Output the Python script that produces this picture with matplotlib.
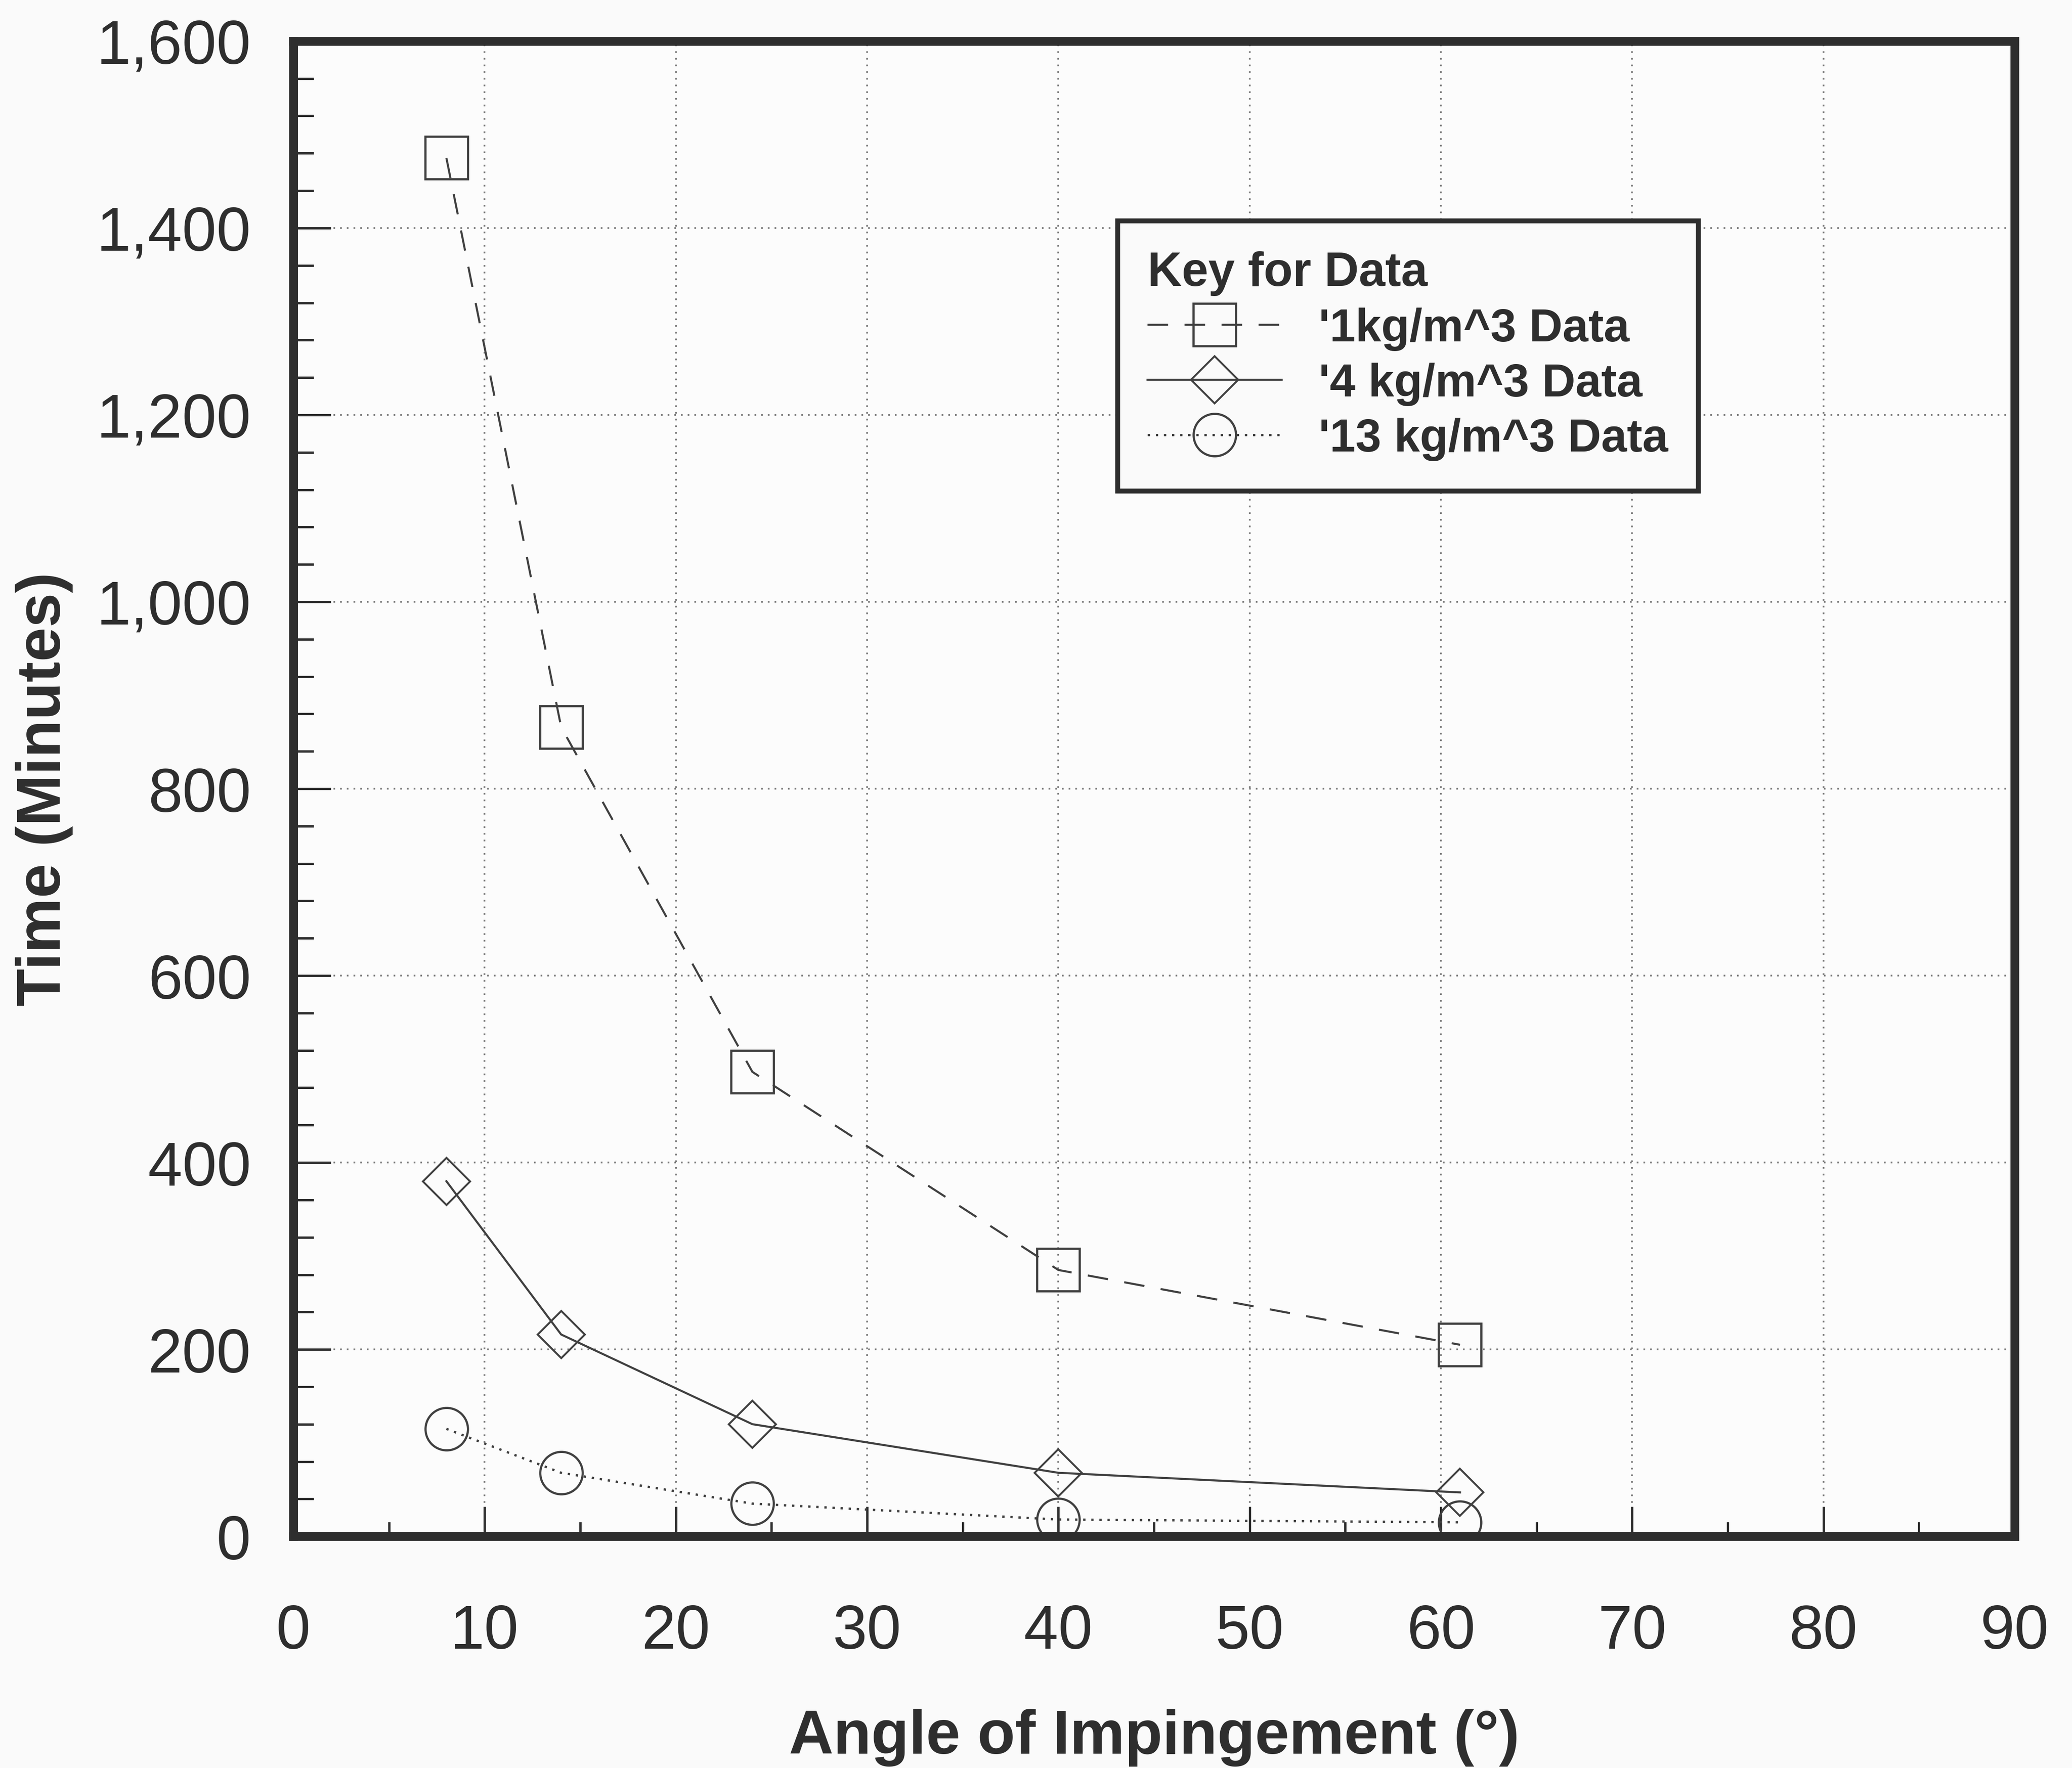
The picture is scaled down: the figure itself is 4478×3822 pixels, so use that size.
import matplotlib.pyplot as plt
from matplotlib.ticker import MultipleLocator, StrMethodFormatter

# values
angle = [8, 14, 24, 40, 61]
time_1kg = [1475, 866, 497, 285, 205]
time_4kg = [380, 216, 120, 68, 47]
time_13kg = [115, 68, 35, 18, 15]
labels = ["'1kg/m^3 Data", "'4 kg/m^3 Data", "'13 kg/m^3 Data"]

plt.rcParams['font.family'] = ['Liberation Sans', 'DejaVu Sans']
ink = '#2e2e2e'
mark = '#404040'

fig = plt.figure(figsize=(22.39, 19.115), dpi=200, facecolor='#fafafa')
ax = fig.add_axes([0.1416, 0.131, 0.8307, 0.8455])
ax.set_facecolor('#fcfcfc')

ax.plot(angle, time_1kg, ls=(0, (10, 8)), lw=1.6, color=mark, marker='s', ms=33,
        mfc='none', mec=mark, mew=1.7, label=labels[0])
ax.plot(angle, time_4kg, ls='-', lw=1.6, color=mark, marker='D', ms=26,
        mfc='none', mec=mark, mew=1.5, label=labels[1])
ax.plot(angle, time_13kg, ls=(0, (1, 2.5)), lw=1.8, color=mark, marker='o', ms=33,
        mfc='none', mec=mark, mew=1.7, label=labels[2])

ax.set_xlim(0, 90)
ax.set_ylim(0, 1600)
ax.xaxis.set_major_locator(MultipleLocator(10))
ax.xaxis.set_minor_locator(MultipleLocator(5))
ax.yaxis.set_major_locator(MultipleLocator(200))
ax.yaxis.set_minor_locator(MultipleLocator(40))
ax.yaxis.set_major_formatter(StrMethodFormatter('{x:,.0f}'))
ax.grid(True, which='major', ls=(0, (1, 3)), lw=1.3, color='#777777')

ax.tick_params(axis='both', which='both', direction='in', color=ink, width=1.8,
               labelcolor=ink, labelsize=48)
ax.tick_params(axis='y', which='major', length=29, pad=33)
ax.tick_params(axis='y', which='minor', length=16)
ax.tick_params(axis='x', which='major', length=23, pad=52)
ax.tick_params(axis='x', which='minor', length=11)

for s in ax.spines.values():
    s.set_linewidth(6.8)
    s.set_color(ink)

ax.set_xlabel('Angle of Impingement (°)', fontsize=48, fontweight='bold', color=ink)
ax.xaxis.set_label_coords(0.5, -0.115)
ax.set_ylabel('Time (Minutes)', fontsize=48, fontweight='bold', color=ink)
ax.yaxis.set_label_coords(-0.128, 0.5)

leg = ax.legend(title='Key for Data', loc='upper left', bbox_to_anchor=(0.4788, 0.880),
                borderaxespad=0, frameon=True, fancybox=False, edgecolor=ink,
                framealpha=1, facecolor='#fafafa',
                prop={'weight': 'bold', 'size': 36},
                title_fontproperties={'weight': 'bold', 'size': 37},
                alignment='left', handlelength=2.9, handletextpad=0.8,
                labelspacing=0.25, borderpad=0.65, numpoints=1)
leg.get_frame().set_linewidth(3.8)
for t in leg.get_texts():
    t.set_color(ink)
leg.get_title().set_color(ink)

fig.savefig('out.png', dpi=200, facecolor=fig.get_facecolor())
